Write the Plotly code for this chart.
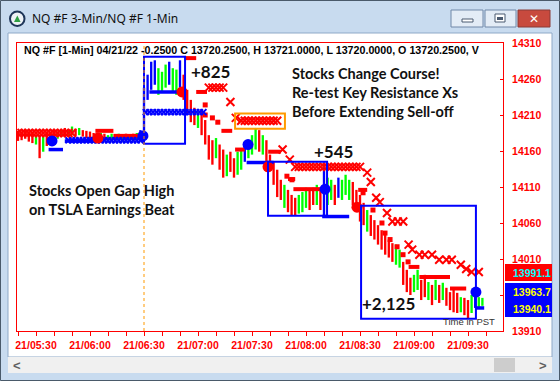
import plotly.graph_objects as go

# ---------------- DATA (minutes after 05:30 PST, NQ price) ----------------
x_tick_labels = ["21/05:30", "21/06:00", "21/06:30", "21/07:00", "21/07:30",
                 "21/08:00", "21/08:30", "21/09:00", "21/09:30"]
y_tick_values = [13910, 13960, 14010, 14060, 14110, 14160, 14210, 14260, 14310]

bar_start, bar_step = -10, 2   # 2-minute bars starting 05:20
bar_hi = [14188, 14187, 14188, 14187, 14184, 14181, 14182, 14180, 14185, 14185,
          14188, 14187, 14189, 14192, 14189, 14194, 14191, 14192, 14189, 14188,
          14187, 14185, 14184, 14185, 14184, 14182, 14184, 14182, 14184, 14182,
          14184, 14182, 14184, 14185, 14189,
          14248, 14266, 14284, 14286, 14275, 14270, 14280, 14284, 14275, 14273,
          14286, 14266, 14245, 14231, 14220, 14214, 14217, 14203, 14182, 14175,
          14178, 14169, 14162, 14155, 14159, 14150, 14159, 14164, 14173, 14175,
          14182, 14192, 14189, 14182, 14175, 14155, 14145, 14134, 14120, 14113,
          14106, 14099, 14095, 14099, 14103, 14109, 14106, 14109, 14113, 14109,
          14144, 14123, 14120, 14113, 14123, 14120, 14127, 14120, 14117, 14106,
          14099, 14088, 14078, 14071, 14064, 14057, 14050, 14044, 14037, 14032,
          14030, 14023, 14006, 13995, 13984, 13988, 13995, 13981, 13988, 13978,
          13974, 13981, 13974, 13977, 13970, 13964, 13967, 13963, 13957, 13956,
          13953, 13960, 13964, 13957, 13956]
bar_lo = [14174, 14175, 14177, 14173, 14171, 14169, 14150, 14159, 14167, 14173,
          14178, 14177, 14180, 14181, 14180, 14182, 14181, 14182, 14180, 14178,
          14177, 14175, 14174, 14175, 14174, 14173, 14174, 14173, 14174, 14173,
          14174, 14174, 14174, 14175, 14175,
          14178, 14231, 14245, 14252, 14238, 14242, 14248, 14252, 14242, 14238,
          14248, 14231, 14210, 14200, 14196, 14192, 14182, 14169, 14148, 14141,
          14150, 14134, 14123, 14125, 14131, 14123, 14127, 14134, 14145, 14150,
          14155, 14162, 14159, 14155, 14141, 14134, 14113, 14096, 14092, 14081,
          14075, 14071, 14070, 14073, 14075, 14081, 14078, 14085, 14085, 14078,
          14067, 14085, 14092, 14085, 14095, 14092, 14099, 14092, 14085, 14081,
          14062, 14057, 14048, 14042, 14037, 14030, 14023, 14016, 14012, 14006,
          14002, 13998, 13974, 13964, 13960, 13964, 13967, 13953, 13957, 13953,
          13946, 13953, 13949, 13953, 13945, 13939, 13936, 13935, 13936, 13932,
          13928, 13935, 13942, 13942, 13945]
bar_dir = list("rrrrrgrgrrrggrggrgrrrrrgrggrggrgrgb"
               "bbbbgggbgg" "brrrrgrrrr" "grrgrrggbg" "ggrgrrrrrg" "rrrgggrrgr"
               "bggrbgggrr" "rrgrrrrrrr" "ggrrrggrrg" "rgrgrrrrgr" "rgbgg")

red_x_t = [-10, -8, -6, -4, -2, 0, 2, 4, 6, 8, 10, 12, 14, 16, 18, 20,
           96, 98, 100, 102, 104, 108, 111,
           114, 116, 118, 120, 122, 124, 126, 128, 130, 132, 134, 137, 141,
           144, 146, 148, 150, 152, 154, 156, 158, 160, 162, 164, 166, 168, 170,
           172, 174, 176, 178, 180, 184, 186, 189, 191, 195, 198, 201, 204, 207,
           209, 213, 216, 220, 224, 228, 231, 236, 239, 242, 246]
red_x_p = [14185, 14185, 14185, 14185, 14185, 14185, 14185, 14185, 14185, 14185,
           14185, 14185, 14185, 14185, 14185, 14185,
           14248, 14248, 14248, 14248, 14248, 14228, 14206,
           14202, 14202, 14202, 14202, 14202, 14202, 14202, 14202, 14202, 14202,
           14202, 14162, 14148,
           14138, 14138, 14138, 14138, 14138, 14138, 14138, 14138, 14138, 14138,
           14138, 14138, 14138, 14138, 14138, 14138, 14138, 14138, 14138,
           14130, 14117, 14095, 14089, 14074, 14062, 14062, 14062, 14030,
           14023, 14016, 14016, 14016, 14009, 14009, 14009, 14002, 13996, 13992, 13992]

blue_x_t = [18, 20, 22, 24, 26, 28, 30, 32, 34, 36, 38, 40, 42, 44, 46, 48, 50,
            52, 54, 56, 58,
            61, 63, 65, 67, 69, 71, 73, 75, 77, 79, 81, 83, 85, 87, 89, 91, 93]
blue_x_p = [14175, 14175, 14175, 14175, 14175, 14175, 14175, 14175, 14175, 14175,
            14175, 14175, 14175, 14175, 14175, 14175, 14175, 14175, 14175, 14175,
            14175,
            14214, 14214, 14214, 14214, 14214, 14214, 14214, 14214, 14214, 14214,
            14214, 14214, 14214, 14214, 14214, 14214, 14214]

# level segments: (start, end, price)
red_levels = [(33, 43, 14188), (43, 60, 14181), (83, 89, 14289), (89, 95, 14242),
              (103, 109, 14188), (110.6, 116, 14162), (129, 136, 14159),
              (140, 144, 14121), (143, 159, 14107), (179, 184, 14106),
              (207, 213, 13999), (213, 230, 13985), (230, 239, 13969)]
blue_levels = [(7, 15, 14162), (16, 34, 14174), (63, 81, 14242),
               (117, 132, 14144), (159, 174, 14069), (244, 249, 13942)]

red_dot_t = [94, 94, 98, 101, 139.4, 142.2, 181.7, 187.2, 192.2, 193.9, 196.7,
             200.6, 203.9, 206.7]
red_dot_p = [14224, 14210, 14206, 14200, 14125, 14120, 14102, 14078, 14060,
             14046, 14037, 14027, 14016, 14006]

big_blue_t = [8.9, 59.4, 117.8, 160.6, 244.4]
big_blue_p = [14174, 14181, 14169, 14107, 13964]
big_red_t = [34.4, 81.1, 128.9, 178.3]
big_red_p = [14178, 14242, 14138, 14082]

# boxes: (start, end, low, high)
blue_boxes = [(60, 82.8, 14170, 14291), (128.9, 161.7, 14070, 14145),
              (180.6, 244.4, 13927, 14084)]
orange_boxes = [(110.6, 138.3, 14191, 14212)]

gain_labels = ["+825", "+545", "+2,125"]
gain_t = [97.2, 165, 196]
gain_p = [14270, 14159, 13948]

last_prices = [13991.1, 13963.7, 13940.1]
open_time = 60

# ---------------- LAYOUT HELPERS ----------------
W, H = 560, 381
L, R, T, B = 17, 503, 43, 331
X_PER_MIN, X0 = 1.8, 36


def px(x):
    return (x - L) / (R - L)


def py(y):
    return (B - y) / (B - T)


shapes = []
annos = []


def rect(x0, y0, x1, y1, fill=None, line=None, lw=1, layer="below"):
    shapes.append(dict(type="rect", xref="paper", yref="paper",
                       x0=px(x0), x1=px(x1), y0=py(y1), y1=py(y0),
                       fillcolor=fill or "rgba(0,0,0,0)",
                       line=dict(color=line or "rgba(0,0,0,0)", width=lw if line else 0),
                       layer=layer))


def text(x, y, s, size, color="black", family="Liberation Sans", weight="normal",
         xanchor="left", yanchor="middle", align="left"):
    annos.append(dict(x=px(x), y=py(y), xref="paper", yref="paper", text=s,
                      showarrow=False, xanchor=xanchor, yanchor=yanchor, align=align,
                      font=dict(size=size, color=color, family=family, weight=weight)))


# window chrome
rect(0, 0, 560, 381, fill="#c8dbef")
rect(8, 33, 552, 357, fill="white", line="#8fa9c7")
rect(8, 357, 552, 373, fill="#f0f0f0")
rect(494, 358, 515, 372, fill="#cdcdcd")
rect(0.5, 0.5, 559.5, 380.5, line="#4a5a6a", lw=1)
text(17, 365, "<", 13, "#606060", weight="bold", xanchor="center")
text(543, 365, ">", 13, "#606060", weight="bold", xanchor="center")
# title bar buttons
rect(451, 10, 483, 27, fill="#e3ecf6", line="#7088a8")
rect(485, 10, 516, 27, fill="#e3ecf6", line="#7088a8")
rect(518, 10, 550, 27, fill="#c84a3e", line="#8a3a36")
rect(462, 19, 473, 22, fill="white", line="#4a5a70")
rect(495, 14, 505, 22, fill="white", line="#4a5a70", lw=1)
rect(497, 17, 503, 20, fill="#4a5a70")
text(534, 18.5, "✕", 12, "white", family="DejaVu Sans", weight="bold", xanchor="center")
# icon
shapes.append(dict(type="circle", xref="paper", yref="paper",
                   x0=px(10), x1=px(24.5), y0=py(26), y1=py(11.5),
                   fillcolor="#eef2f6", line=dict(color="#1e3558", width=2), layer="below"))
shapes.append(dict(type="path", xref="paper", yref="paper",
                   path=f"M {px(14)},{py(22)} L {px(17.3)},{py(15.5)} L {px(20.6)},{py(22)} Z",
                   fillcolor="#2f9e44", line=dict(width=0), layer="below"))
text(30, 18.5, "NQ #F 3-Min/NQ #F 1-Min", 12, "#101010", family="Noto Sans")

# chart texts
text(22, 50.5, "NQ #F [1-Min] 04/21/22 -0.2500 C 13720.2500, H 13721.0000, "
     "L 13720.0000, O 13720.2500, V", 10.7, "black", weight="bold")
text(290, 63, "Stocks Change Course!<br>Re-test Key Resistance Xs<br>Before Extending Sell-off",
     14.5, "#111", family="Lato", weight="bold", yanchor="top")
text(27, 180, "Stocks Open Gap High<br>on TSLA Earnings Beat",
     14.5, "#111", family="Lato", weight="bold", yanchor="top")
text(497, 321, "Time in PST", 9.5, "#333", xanchor="right")

for s, t, p in zip(gain_labels, gain_t, gain_p):
    annos.append(dict(x=t, y=p, xref="x", yref="y", text=s, showarrow=False,
                      font=dict(size=17, color="#111", family="Lato", weight="bold")))

# boxes
for (t0, t1, lo, hi) in blue_boxes:
    shapes.append(dict(type="rect", xref="x", yref="y", x0=t0, x1=t1, y0=lo, y1=hi,
                       line=dict(color="#0000ff", width=2), layer="above"))
for (t0, t1, lo, hi) in orange_boxes:
    shapes.append(dict(type="rect", xref="x", yref="y", x0=t0, x1=t1, y0=lo, y1=hi,
                       line=dict(color="#ff9900", width=2), layer="above"))
shapes.append(dict(type="line", xref="x", yref="paper", x0=open_time, x1=open_time,
                   y0=0, y1=1, line=dict(color="#ff9900", width=1, dash="dot"),
                   layer="above"))

# last-price tags
tag_h = 11.8
shapes.append(dict(type="rect", xref="paper", yref="y", x0=px(505), x1=px(552),
                   y0=last_prices[0] - tag_h, y1=last_prices[0] + tag_h,
                   fillcolor="#ff0000", line=dict(width=0), layer="above"))
shapes.append(dict(type="rect", xref="paper", yref="y", x0=px(505), x1=px(552),
                   y0=last_prices[2] - 10.5, y1=last_prices[1] + 13,
                   fillcolor="#0000ff", line=dict(width=0), layer="above"))
for p, c in zip(last_prices, ["#00ffff", "#ffff00", "#ffff00"]):
    annos.append(dict(x=px(511), y=p, xref="paper", yref="y", text=f"{p:.1f}",
                      showarrow=False, xanchor="left",
                      font=dict(size=10.5, color=c, family="Liberation Sans", weight="bold")))

# ---------------- TRACES ----------------
bar_t = [bar_start + bar_step * i for i in range(len(bar_hi))]
cmap = {"r": "#ff0000", "g": "#00ff00", "b": "#0000ff"}
fig = go.Figure()
fig.add_trace(go.Bar(x=bar_t, y=[h - l for h, l in zip(bar_hi, bar_lo)], base=bar_lo,
                     width=1.3, marker=dict(color=[cmap[d] for d in bar_dir], line=dict(width=0))))


def seg(levels):
    xs, ys = [], []
    for t0, t1, p in levels:
        xs += [t0, t1, None]
        ys += [p, p, None]
    return xs, ys


xs, ys = seg(blue_levels)
fig.add_trace(go.Scatter(x=xs, y=ys, mode="lines", line=dict(color="#0000ff", width=3.5)))
xs, ys = seg(red_levels)
fig.add_trace(go.Scatter(x=xs, y=ys, mode="lines", line=dict(color="#ff0000", width=4)))
fig.add_trace(go.Scatter(x=red_dot_t, y=red_dot_p, mode="markers",
                         marker=dict(color="#ff0000", size=5, symbol="square")))
fig.add_trace(go.Scatter(x=blue_x_t, y=blue_x_p, mode="markers",
                         marker=dict(symbol="x-thin", size=6, line=dict(color="#0000ff", width=2))))
fig.add_trace(go.Scatter(x=red_x_t, y=red_x_p, mode="markers",
                         marker=dict(symbol="x-thin", size=8, line=dict(color="#ff0000", width=2))))
fig.add_trace(go.Scatter(x=big_red_t, y=big_red_p, mode="markers",
                         marker=dict(color="#ff0000", size=11)))
fig.add_trace(go.Scatter(x=big_blue_t, y=big_blue_p, mode="markers",
                         marker=dict(color="#0000ff", size=11)))

tickvals = list(range(-10, 251, 10))
label_at = {30 * i: lab for i, lab in enumerate(x_tick_labels)}
ticktext = [label_at.get(v, "") for v in tickvals]

axis_font = dict(family="Liberation Sans", size=10.5, color="#ff0000", weight="bold")
fig.update_layout(
    width=W, height=H, margin=dict(l=L, r=W - R, t=T, b=H - B),
    paper_bgcolor="#c8dbef", plot_bgcolor="white", showlegend=False,
    barmode="overlay", shapes=shapes, annotations=annos,
    xaxis=dict(range=[(L - X0) / X_PER_MIN, (R - X0) / X_PER_MIN], tickvals=tickvals,
               ticktext=ticktext, ticks="outside", ticklen=4, tickcolor="#ff0000",
               tickfont=axis_font, showline=True, linecolor="#ff0000", linewidth=1,
               mirror=True, showgrid=False, zeroline=False, fixedrange=True),
    yaxis=dict(range=[13910, 14310], side="right", tickvals=y_tick_values,
               ticktext=[("" if v == 13960 else str(v)) for v in y_tick_values],
               ticks="inside", ticklen=3, tickcolor="#ff0000", tickfont=axis_font,
               ticklabelstandoff=6,
               showline=True, linecolor="#ff0000", linewidth=1, mirror=True,
               showgrid=False, zeroline=False, fixedrange=True),
)
fig.write_html("out.html", config={"displayModeBar": False})
